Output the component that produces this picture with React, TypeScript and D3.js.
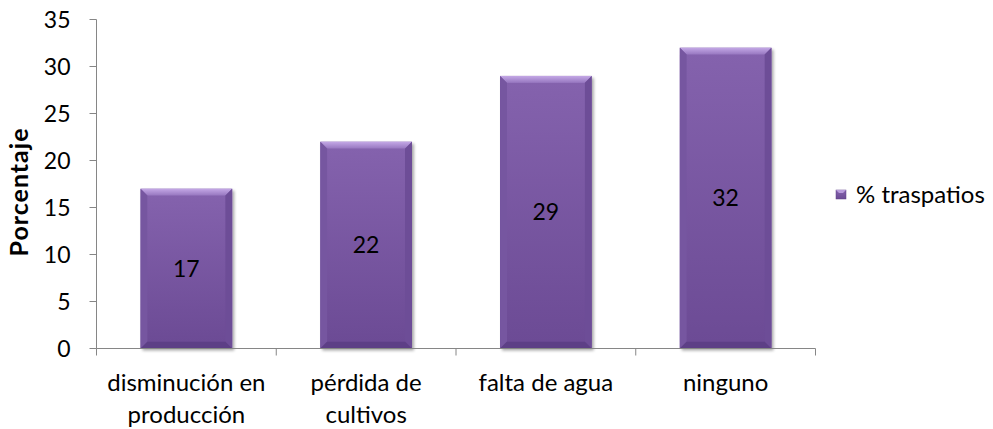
import React from "react";
import * as d3 from "d3";

const categories: string[][] = [
  ["disminución en", "producción"],
  ["pérdida de", "cultivos"],
  ["falta de agua"],
  ["ninguno"],
];
const values: number[] = [17, 22, 29, 32];
const yTicks: number[] = [0, 5, 10, 15, 20, 25, 30, 35];
const seriesName = "% traspatios";
const yTitle = "Porcentaje";

const W = 993;
const H = 429;
const FONT = "Lato, 'Open Sans', sans-serif";

export default function App() {
  const left = 96.5;
  const right = 815.5;
  const top = 19.5;
  const bottom = 348.5;
  const x = d3.scaleBand<number>().domain(d3.range(values.length)).range([left, right]).paddingInner(0.49).paddingOuter(0.245);
  const y = d3.scaleLinear().domain([0, 35]).range([bottom, top]);
  const bw = x.bandwidth();
  const bev = 7;
  const bandStep = (right - left) / values.length;

  return (
    <svg width={W} height={H} style={{ position: "absolute", left: 0, top: 0 }} fontFamily={FONT}>
      <defs>
        <linearGradient id="face" x1="0" y1="0" x2="0" y2="1">
          <stop offset="0" stopColor="#8462ad" />
          <stop offset="1" stopColor="#6c4b95" />
        </linearGradient>
        <linearGradient id="topb" x1="0" y1="0" x2="0" y2="1">
          <stop offset="0" stopColor="#c4a8e6" />
          <stop offset="1" stopColor="#9676bf" />
        </linearGradient>
        <filter id="sh" x="-10%" y="-10%" width="130%" height="130%">
          <feGaussianBlur in="SourceAlpha" stdDeviation="1.5" />
          <feOffset dx="1.5" dy="1.5" />
          <feComponentTransfer>
            <feFuncA type="linear" slope="0.35" />
          </feComponentTransfer>
          <feMerge>
            <feMergeNode />
            <feMergeNode in="SourceGraphic" />
          </feMerge>
        </filter>
      </defs>
      <rect width={W} height={H} fill="#fff" />

      {/* y axis */}
      <line x1={left} x2={left} y1={top} y2={bottom} stroke="#868686" strokeWidth={1} />
      {yTicks.map((t) => (
        <g key={t}>
          <line x1={left - 7} x2={left} y1={y(t)} y2={y(t)} stroke="#868686" />
          <text x={left - 26} y={y(t)} dy="0.35em" textAnchor="end" fontSize={23} fill="#000">
            {t}
          </text>
        </g>
      ))}
      <text
        transform={`translate(28,192) rotate(-90)`}
        textAnchor="middle"
        fontSize={25}
        letterSpacing={1}
        fontWeight="bold"
        fill="#000"
      >
        {yTitle}
      </text>

      {/* bars */}
      {values.map((v, i) => {
        const x0 = x(i)!;
        const x1 = x0 + bw;
        const y0 = y(v);
        const y1 = bottom;
        return (
          <g key={i}>
            <rect x={x0} y={y0} width={bw} height={y1 - y0} fill="url(#face)" filter="url(#sh)" />
            <polygon points={`${x0},${y0} ${x1},${y0} ${x1 - bev},${y0 + bev} ${x0 + bev},${y0 + bev}`} fill="url(#topb)" />
            <polygon points={`${x0},${y0} ${x0 + bev},${y0 + bev} ${x0 + bev},${y1 - bev} ${x0},${y1}`} fill="#7656a0" />
            <polygon points={`${x1},${y0} ${x1 - bev},${y0 + bev} ${x1 - bev},${y1 - bev} ${x1},${y1}`} fill="#6d4d97" />
            <polygon points={`${x0},${y1} ${x0 + bev},${y1 - bev} ${x1 - bev},${y1 - bev} ${x1},${y1}`} fill="#5d3f86" />
            <rect x={x0 + bev} y={y0 + bev} width={bw - 2 * bev} height={y1 - y0 - 2 * bev} fill="url(#face)" opacity={0.9} />
            <text x={x0 + bw / 2} y={(y0 + y1) / 2} dy="0.35em" textAnchor="middle" fontSize={23} fill="#000">
              {v}
            </text>
          </g>
        );
      })}

      {/* x axis */}
      <line x1={left} x2={right} y1={bottom} y2={bottom} stroke="#868686" />
      {d3.range(values.length + 1).map((i) => (
        <line key={i} x1={left + i * bandStep} x2={left + i * bandStep} y1={bottom} y2={bottom + 7} stroke="#868686" />
      ))}
      {categories.map((lines, i) => (
        <text key={i} x={x(i)! + bw / 2} y={391} textAnchor="middle" fontSize={24} fill="#000">
          {lines.map((l, j) => (
            <tspan key={j} x={x(i)! + bw / 2} dy={j === 0 ? 0 : 32}>
              {l}
            </tspan>
          ))}
        </text>
      ))}

      {/* legend */}
      <rect x={836} y={190} width={10} height={9} fill="url(#face)" stroke="#5d3f86" strokeWidth={0.5} />
      <polygon points="836,190 846,190 843,193 839,193" fill="#b89bdc" />
      <text x={856} y={194.5} dy="0.35em" fontSize={24} fill="#000">
        {seriesName}
      </text>
    </svg>
  );
}
